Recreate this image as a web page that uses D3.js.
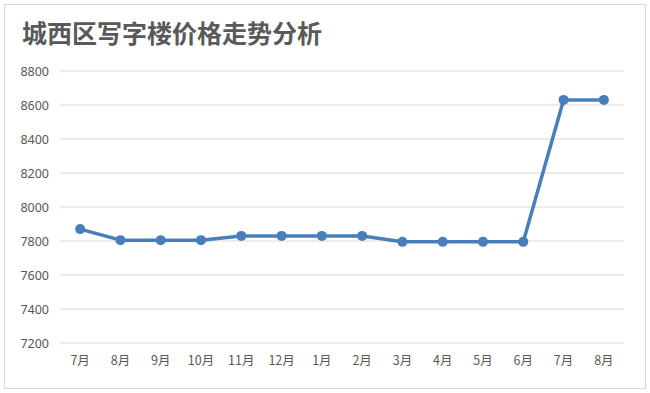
<!DOCTYPE html>
<html>
<head>
<meta charset="utf-8">
<script src="https://cdn.jsdelivr.net/npm/d3@7"></script>
<style>
  body { margin: 0; background: #fff; }
  text { font-family: "Noto Sans CJK SC", "Noto Sans", sans-serif; }
</style>
</head>
<body>
<div class="chart"></div>
<script>
const months = ['7月', '8月', '9月', '10月', '11月', '12月', '1月', '2月', '3月', '4月', '5月', '6月', '7月', '8月'];
const prices = [7870, 7805, 7805, 7805, 7830, 7830, 7830, 7830, 7795, 7795, 7795, 7795, 8630, 8630];
const yTicks = [7200, 7400, 7600, 7800, 8000, 8200, 8400, 8600, 8800];
const title = '城西区写字楼价格走势分析';

const W = 650, H = 393;
const margin = { top: 71, right: 26, bottom: 50, left: 60 };
const width = W - margin.left - margin.right;
const height = 272;

const svg = d3.select('.chart')
  .append('svg')
    .attr('width', W)
    .attr('height', H);

// outer frame
svg.append('rect')
  .attr('x', 4.5).attr('y', 4.5)
  .attr('width', 641).attr('height', 384)
  .attr('fill', '#fff')
  .attr('stroke', '#d9d9d9');

svg.append('text')
  .attr('x', 22).attr('y', 43)
  .attr('font-size', 25)
  .attr('font-weight', 'bold')
  .attr('fill', '#595959')
  .text(title);

const g = svg.append('g')
  .attr('transform', `translate(${margin.left}, ${margin.top})`);

// index-based band so duplicated month names stay separate
const xScale = d3.scaleBand()
  .domain(d3.range(months.length))
  .range([0, width]);

const yScale = d3.scaleLinear()
  .domain([7200, 8800])
  .range([height, 0]);

// grid
g.append('g')
  .selectAll('line')
  .data(yTicks)
  .enter()
  .append('line')
    .attr('x1', 0).attr('x2', width)
    .attr('y1', d => yScale(d)).attr('y2', d => yScale(d))
    .attr('stroke', '#d9d9d9')
    .attr('stroke-width', 1);

const yAxis = d3.axisLeft(yScale)
  .tickValues(yTicks)
  .tickFormat(d3.format('d'))
  .tickSize(0)
  .tickPadding(11);

g.append('g')
  .call(yAxis)
  .call(s => s.select('.domain').remove())
  .selectAll('text')
    .attr('font-size', 12.5)
    .attr('fill', '#595959')
    .style('font-family', '"Noto Sans", sans-serif');

const xAxis = d3.axisBottom(xScale)
  .tickFormat(i => months[i])
  .tickSize(0)
  .tickPadding(13);

g.append('g')
  .attr('transform', `translate(0, ${height})`)
  .call(xAxis)
  .call(s => s.select('.domain').remove())
  .selectAll('text')
    .attr('font-size', 12.5)
    .attr('fill', '#595959');

const cx = i => xScale(i) + xScale.bandwidth() / 2;

const line = d3.line()
  .x((d, i) => cx(i))
  .y(d => yScale(d));

g.append('path')
  .datum(prices)
  .attr('fill', 'none')
  .attr('stroke', '#4a7ebb')
  .attr('stroke-width', 3.5)
  .attr('stroke-linejoin', 'round')
  .attr('d', line);

g.selectAll('circle')
  .data(prices)
  .enter()
  .append('circle')
    .attr('cx', (d, i) => cx(i))
    .attr('cy', d => yScale(d))
    .attr('r', 5)
    .attr('fill', '#4a7ebb');
</script>
</body>
</html>
